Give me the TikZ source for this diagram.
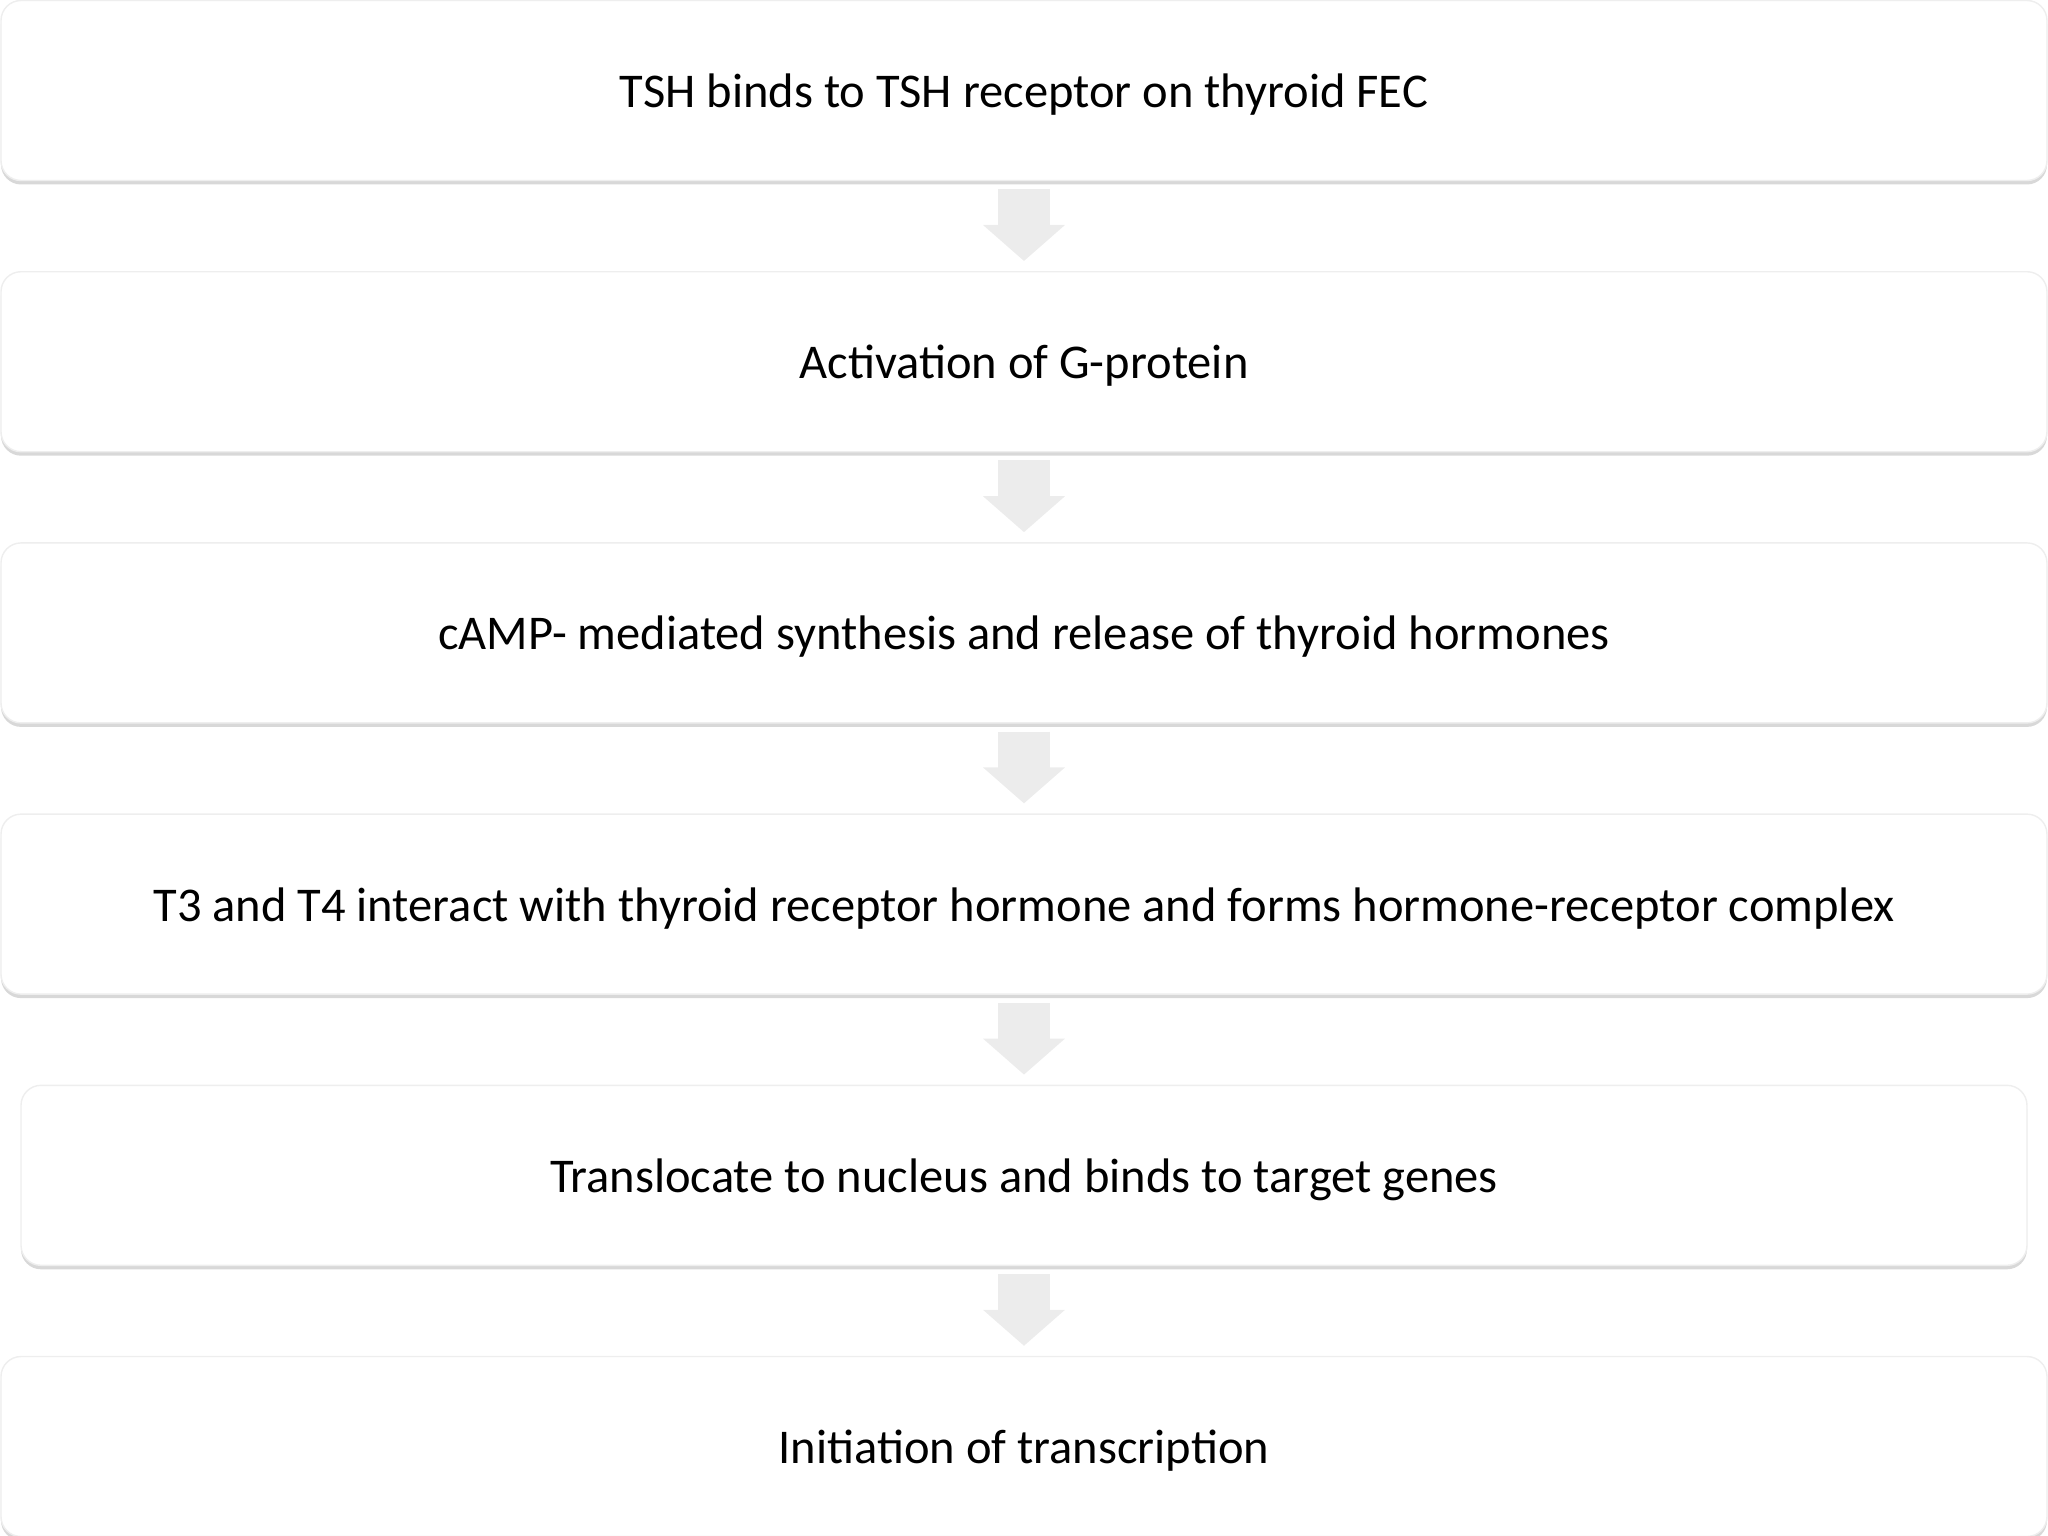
\documentclass[tikz,border=0pt]{standalone}
\usepackage{fontspec}
\setmainfont{Carlito}
\usetikzlibrary{positioning}
\usetikzlibrary{arrows.meta}
\usetikzlibrary{shadows}

\definecolor{arrowgray}{RGB}{236,236,236}
\definecolor{boxline}{RGB}{238,238,238}

\tikzset{
    stepbox/.style={rectangle, rounded corners=0.2cm, draw=boxline, fill=white,
        minimum width=20.46cm, minimum height=1.80cm, align=center,
        text height=0.36cm, text depth=0.02cm,
        font=\fontsize{13.8}{17}\selectfont,
        drop shadow={shadow xshift=0cm, shadow yshift=-0.04cm, opacity=0.28, fill=black!55}},
    flow/.style={line width=0.52cm, arrowgray,
        -{Triangle[width=0.80cm, length=0.36cm]},
        shorten <=0.08cm, shorten >=0.10cm}
}

\begin{document}
\begin{tikzpicture}[node distance=0.898cm]
        \useasboundingbox (0,0) rectangle (20.48,-15.36);

        \node[stepbox] (tsh) at (10.24,-0.905) {TSH binds to TSH receptor on thyroid FEC};
        \node[stepbox, below=of tsh] (gprot) {Activation of G-protein};
        \node[stepbox, below=of gprot] (camp) {cAMP- mediated synthesis and release of thyroid hormones};
        \node[stepbox, below=of camp] (complex) {T3 and T4 interact with thyroid receptor hormone and forms hormone-receptor complex};
        \node[stepbox, minimum width=20.06cm, below=of complex] (nucleus) {Translocate to nucleus and binds to target genes};
        \node[stepbox, below=of nucleus] (transcr) {Initiation of transcription};

        % block arrows between the steps
        \draw[flow] (tsh) -- (gprot);
        \draw[flow] (gprot) -- (camp);
        \draw[flow] (camp) -- (complex);
        \draw[flow] (complex) -- (nucleus);
        \draw[flow] (nucleus) -- (transcr);

\end{tikzpicture}
\end{document}
